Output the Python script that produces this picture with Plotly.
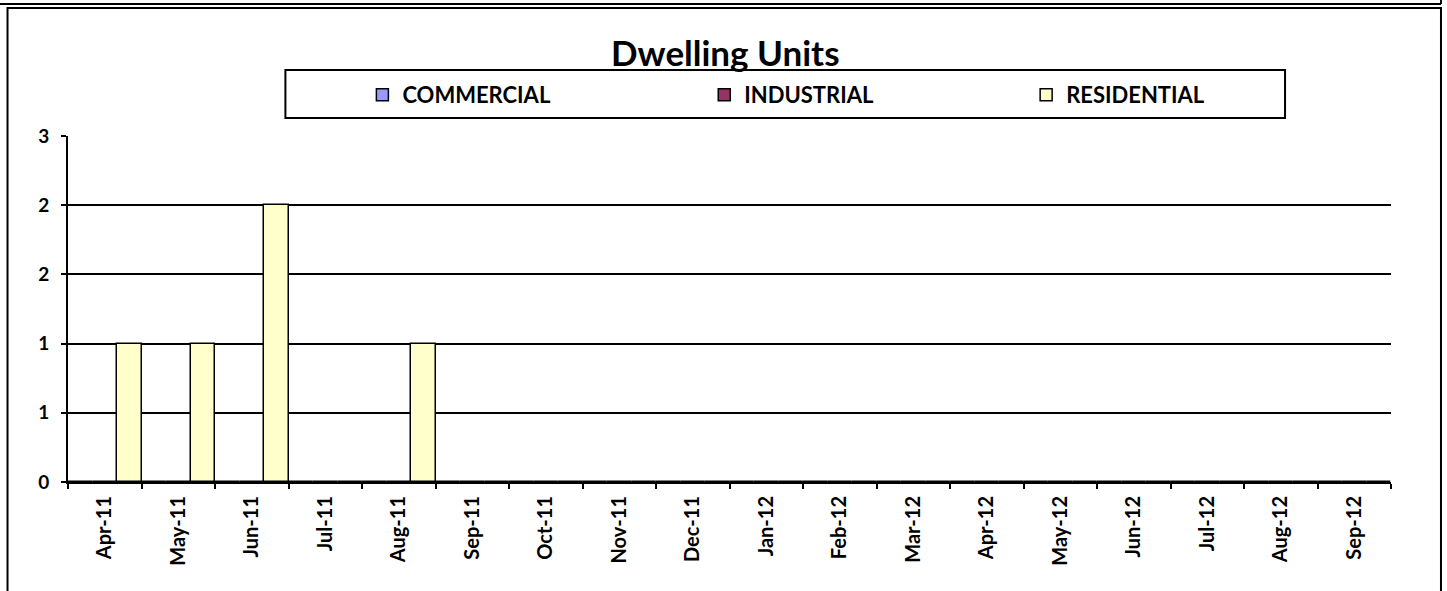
import plotly.graph_objects as go

months = ["Apr-11", "May-11", "Jun-11", "Jul-11", "Aug-11", "Sep-11", "Oct-11", "Nov-11",
          "Dec-11", "Jan-12", "Feb-12", "Mar-12", "Apr-12", "May-12", "Jun-12", "Jul-12",
          "Aug-12", "Sep-12"]
commercial = [0] * 18
industrial = [0] * 18
residential = [1, 1, 2, 0, 1, 0, 0, 0, 0, 0, 0, 0, 0, 0, 0, 0, 0, 0]
y_tickvals = [0, 0.5, 1, 1.5, 2, 2.5]
y_ticktext = ["0", "1", "1", "2", "2", "3"]

W, H = 1447, 591
L, R, T, B = 67.5, 1391, 136, 482
pw, ph = R - L, B - T


def px(x):
    return (x - L) / pw


def py(y):
    return (B - y) / ph


FONT = "Lato"
fig = go.Figure()
series = [("COMMERCIAL", commercial, "#9999FF", "legend"),
          ("INDUSTRIAL", industrial, "#993366", "legend2"),
          ("RESIDENTIAL", residential, "#FFFFCC", "legend3")]
for name, vals, col, lg in series:
    fig.add_trace(go.Bar(x=months, y=vals, name=name, legend=lg,
                         marker=dict(color=col, line=dict(color="black", width=1.5)),
                         hoverinfo="skip"))

leg_common = dict(orientation="h", bgcolor="rgba(0,0,0,0)", borderwidth=0,
                  font=dict(family=FONT, size=22, color="black", weight="bold"),
                  xanchor="left", yanchor="middle", y=py(95), itemwidth=30)
fig.update_layout(
    width=W, height=H,
    margin=dict(l=L, r=W - R, t=T, b=H - B, autoexpand=False),
    paper_bgcolor="white", plot_bgcolor="white",
    barmode="group", bargap=0, bargroupgap=0,
    showlegend=True,
    legend=dict(x=px(362), **leg_common),
    legend2=dict(x=px(704), **leg_common),
    legend3=dict(x=px(1026), **leg_common),
    title=dict(text="Dwelling Units", x=px(725), xref="paper", xanchor="center",
               y=1 - 54 / H, yref="container", yanchor="middle",
               font=dict(family=FONT, size=35, color="black", weight="bold")),
    xaxis=dict(type="category", tickson="boundaries", ticks="outside", ticklen=5,
               tickcolor="black", tickwidth=1.5, showline=True, linecolor="black",
               linewidth=2, tickangle=-90, showgrid=False, ticklabelstandoff=4,
               tickfont=dict(family=FONT, size=20, color="black", weight="bold")),
    yaxis=dict(range=[0, 2.5], tickvals=y_tickvals, ticktext=y_ticktext,
               ticks="outside", ticklen=5, tickcolor="black", tickwidth=1.5,
               showline=True, linecolor="black", linewidth=2, showgrid=True,
               gridcolor="black", gridwidth=1.5, zeroline=False,
               ticklabelstandoff=8,
               tickfont=dict(family=FONT, size=19, color="black", weight="bold")),
    shapes=[
        dict(type="rect", xref="paper", yref="paper", x0=px(285), x1=px(1285),
             y0=py(118), y1=py(70), line=dict(color="black", width=2)),
        dict(type="rect", xref="paper", yref="paper", x0=px(7), x1=px(1441),
             y0=py(660), y1=py(8), line=dict(color="black", width=2)),
        dict(type="line", xref="paper", yref="paper", x0=px(-5), x1=px(1441),
             y0=py(4), y1=py(4), line=dict(color="black", width=2)),
        dict(type="line", xref="paper", yref="paper", x0=px(1441), x1=px(1441),
             y0=py(-5), y1=py(4), line=dict(color="black", width=2)),
    ],
)

fig.write_html("out.html", config={"displayModeBar": False},
               post_script="document.body.style.margin='0';")
